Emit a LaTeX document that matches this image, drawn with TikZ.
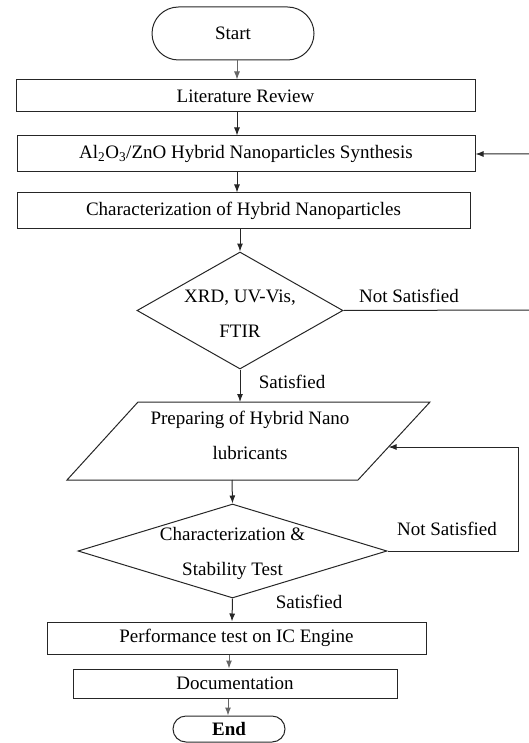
\documentclass[tikz,border=0pt]{standalone}
\usepackage{fontspec}
\setmainfont{Liberation Serif}
\usetikzlibrary{arrows.meta,shapes.geometric,shapes.misc,calc}
\begin{document}
\begin{tikzpicture}[x=1pt,y=-1pt,
  line width=1pt, draw=black!85,
  every node/.style={font=\fontsize{19}{23}\selectfont, inner sep=0pt},
  box/.style={draw, rectangle},
  term/.style={draw, rounded rectangle},
  dia/.style={draw, diamond},
  two/.style={align=center, font=\fontsize{19}{35}\selectfont},
  arr/.style={-{Latex[length=8pt,width=6pt]}},
  lbl/.style={anchor=center}
]
\useasboundingbox (0,0) rectangle (529,743);
% nodes
\node[term, minimum width=162pt, minimum height=53pt] (start) at (233,33.5) {Start};
\node[box, minimum width=459pt, minimum height=32pt] (lit) at (245.5,96) {Literature Review};
\node[box, minimum width=458pt, minimum height=36pt] (syn) at (246,154) {Al\textsubscript{2}O\textsubscript{3}/ZnO Hybrid Nanoparticles Synthesis};
\node[box, minimum width=453pt, minimum height=35pt] (chr) at (243.5,210.5) {Characterization of Hybrid Nanoparticles};
\node[dia, minimum width=206pt, minimum height=117pt] (d1) at (240,310.5) {};
\node[two] (d1t) at (240,314) {XRD, UV-Vis,\\FTIR};
% parallelogram
\coordinate (ptl) at (138,402);
\coordinate (ptr) at (430,402);
\coordinate (pbr) at (358,480);
\coordinate (pbl) at (67,480);
\draw (ptl) -- (ptr) -- (pbr) -- (pbl) -- cycle;
\node[two] (prep) at (250,435) {Preparing of Hybrid Nano\\lubricants};
\coordinate (ptopA) at (240,402);
\coordinate (pbotA) at (232,480);
\coordinate (pright) at (388.5,447);
\node[dia, minimum width=309pt, minimum height=94pt] (d2) at (232.5,551) {};
\node[two] (d2t) at (232.5,553.5) {Characterization \&\\Stability Test};
\node[box, minimum width=379pt, minimum height=32pt] (perf) at (236.5,638) {Performance test on IC Engine};
\node[box, minimum width=324pt, minimum height=29pt] (doc) at (235,683.5) {Documentation};
\node[term, minimum width=112pt, minimum height=26pt, font=\fontsize{19}{23}\selectfont\bfseries] (end) at (229,729) {End};
% labels
\node[lbl] (ns1) at (409,296) {Not Satisfied};
\node[lbl] (s1) at (292,382) {Satisfied};
\node[lbl] (ns2) at (447,529) {Not Satisfied};
\node[lbl] (s2) at (309,602) {Satisfied};
% helper coordinates
\coordinate (x237) at (237,0);
\coordinate (x240) at (240,0);
\coordinate (x232) at (232,0);
\coordinate (x229) at (229,0);
\coordinate (x228) at (228,0);
\coordinate (r1) at (530,310);
\coordinate (r1t) at (530,154);
\coordinate (r2) at (518,551);
\coordinate (r2t) at (518,447);
% connectors
\draw[arr, draw=black!60] (start.south -| x237) -- (lit.north -| x237);
\draw[arr] (lit.south -| x237) -- (syn.north -| x237);
\draw[arr] (syn.south -| x237) -- (chr.north -| x237);
\draw[arr] (chr.south -| x240) -- (d1.north);
\draw[arr] (d1.south) -- (ptopA);
\draw[arr] (pbotA) -- (d2.north);
\draw[arr] (d2.south) -- (perf.north -| x232);
\draw[arr, draw=black!60] (perf.south -| x229) -- (doc.north -| x229);
\draw[arr, draw=black!60] (doc.south -| x228) -- (end.north -| x228);
\draw[arr] (d1.east) -- (r1) -- (r1t) -- (syn.east);
\draw[arr] (d2.east) -- (r2) -- (r2t) -- (pright);
\end{tikzpicture}
\end{document}
